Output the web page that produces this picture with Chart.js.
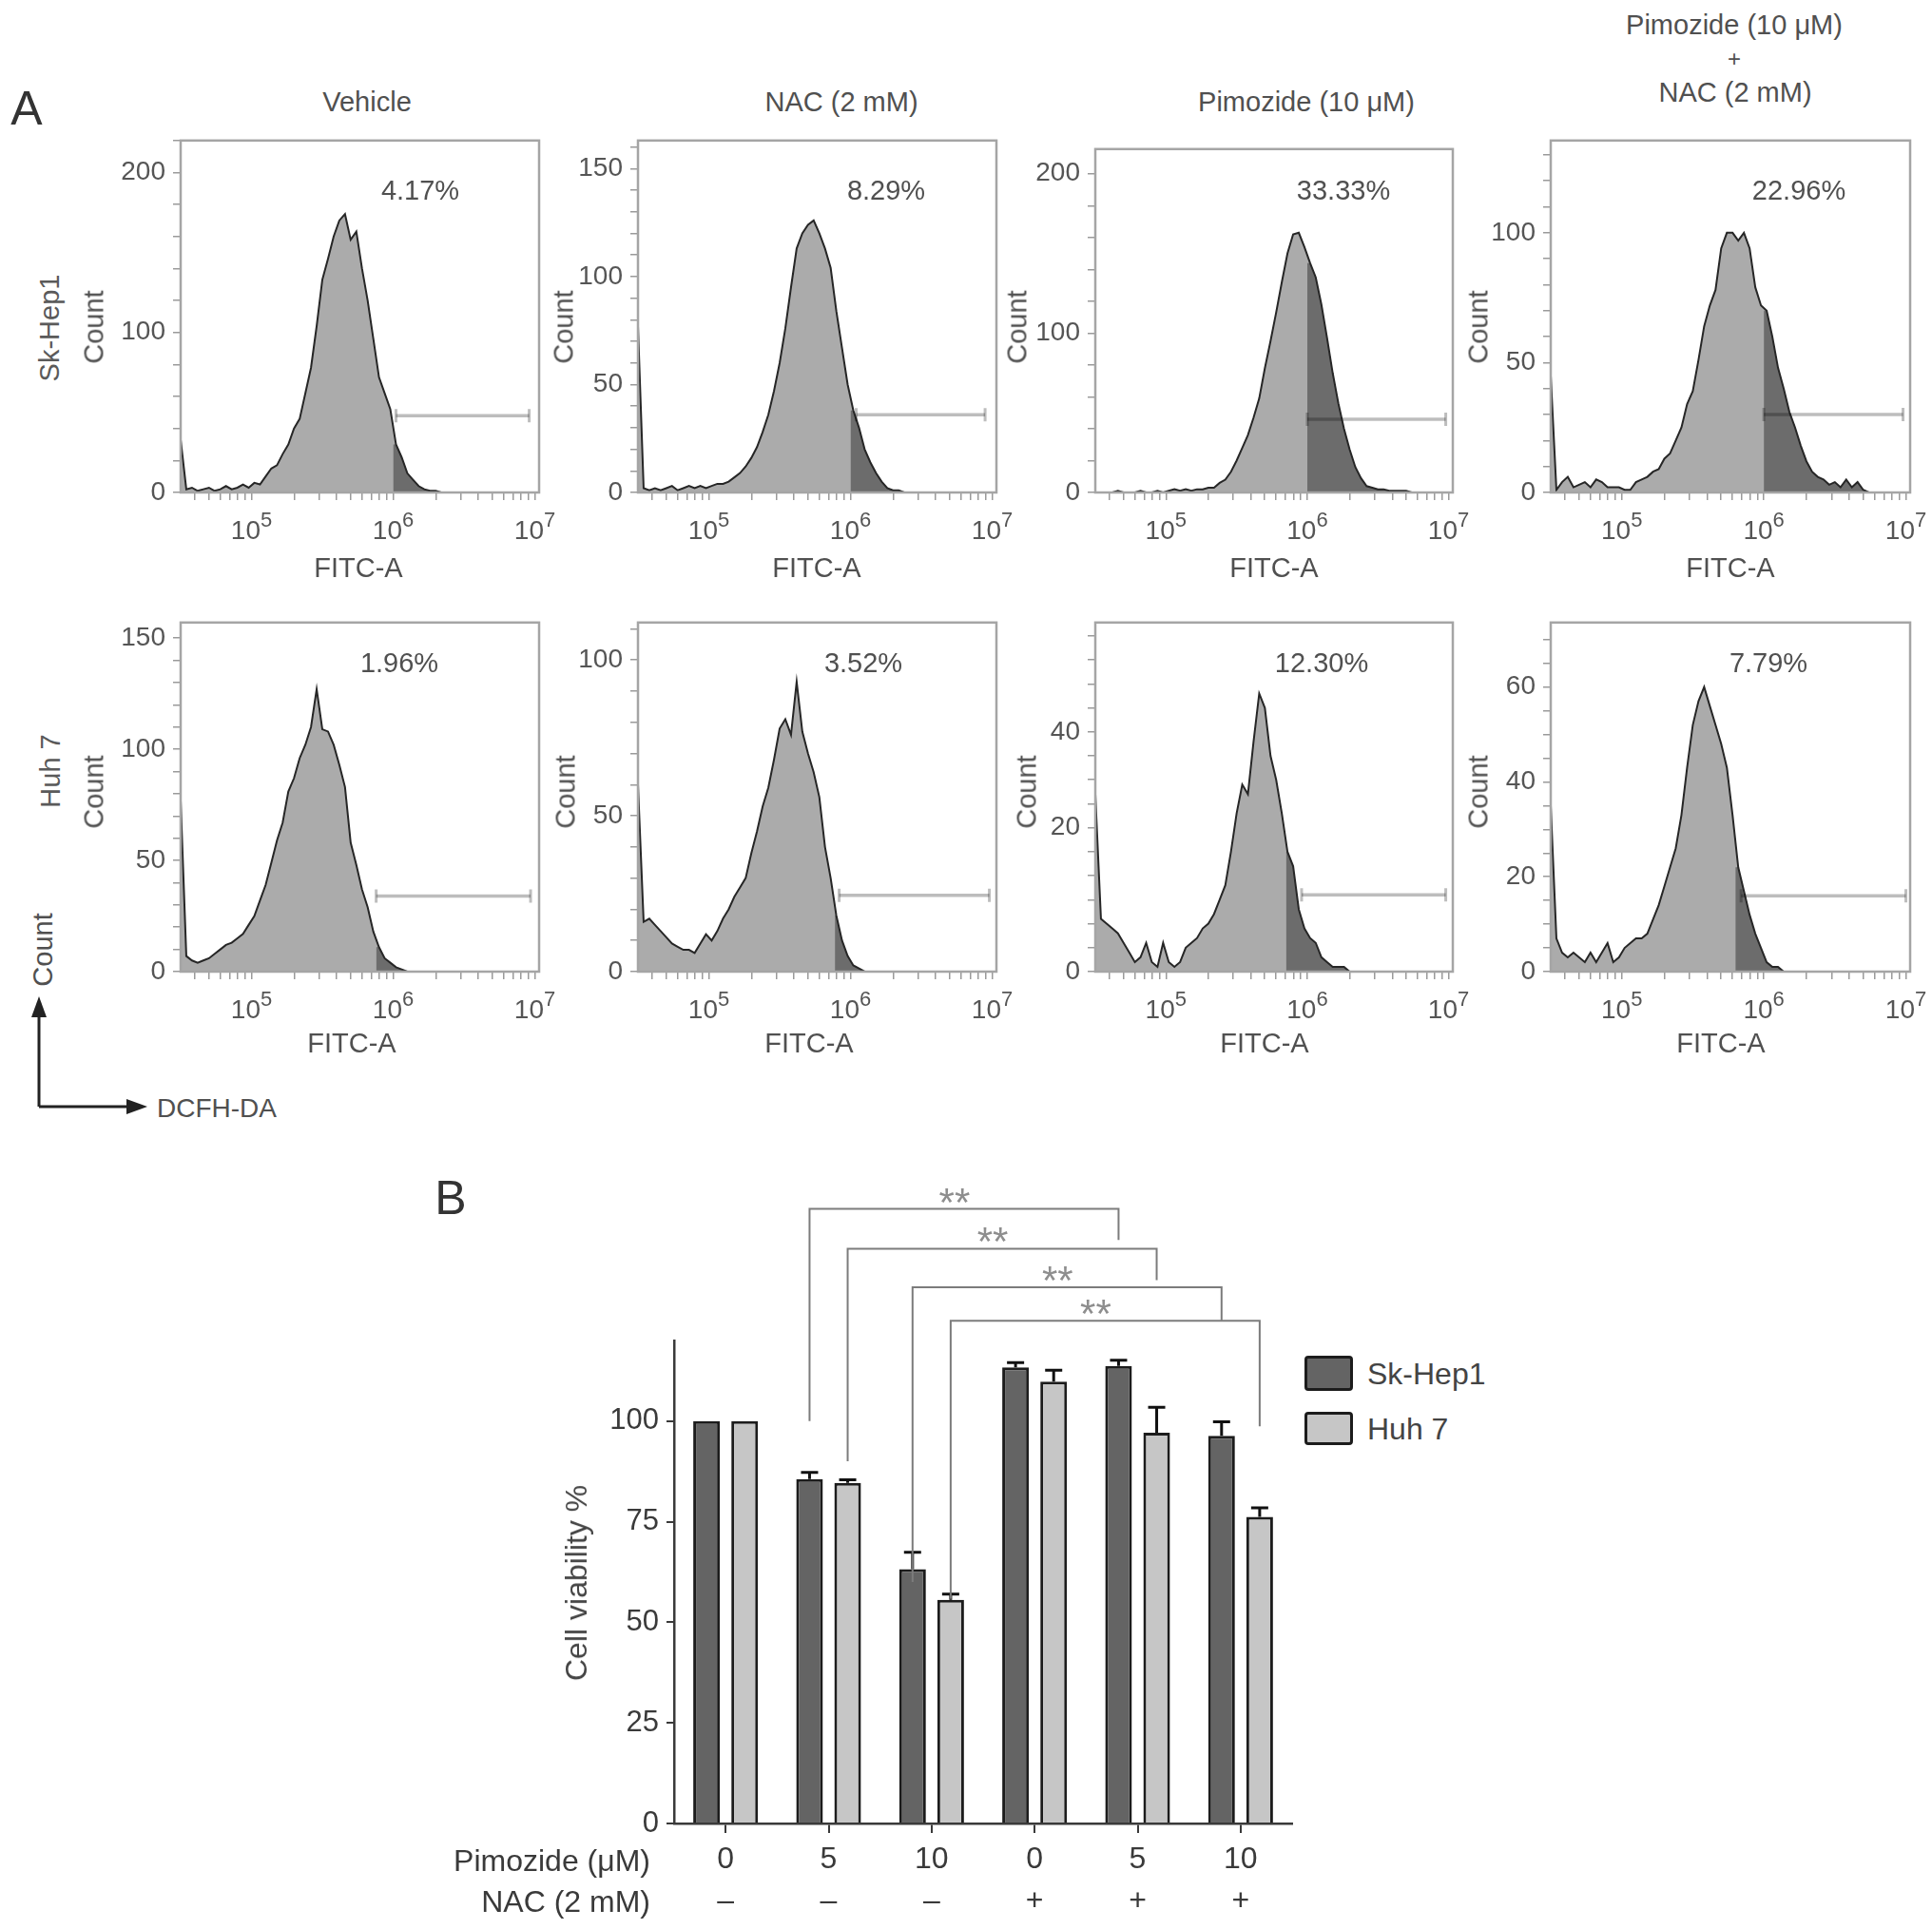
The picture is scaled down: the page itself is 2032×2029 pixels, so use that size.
<!DOCTYPE html>
<html lang="en">
<head>
<meta charset="utf-8">
<title>ROS flow cytometry and cell viability</title>
<script src="https://cdn.jsdelivr.net/npm/chart.js@4.4.1/dist/chart.umd.min.js"></script>
<style>
    html, body { margin: 0; padding: 0; background: #ffffff; }
    #figure { position: relative; width: 2032px; height: 2029px; overflow: hidden; font-family: "Liberation Sans", Arial, sans-serif; color: #505050; }
    .label { position: absolute; white-space: nowrap; line-height: 1; }
    .panel-canvas { position: absolute; }
    .legend-box { position: absolute; border: 3px solid #1c1c1c; border-radius: 4px; box-sizing: border-box; }
</style>
</head>
<body>
<div id="figure"></div>
<script>
// =========================================================
// DATA
// =========================================================

    // FITC-A bin positions (log10 of intensity) shared by every histogram
    const fitcBinExponents = [
        4.50, 4.54, 4.58, 4.62, 4.66, 4.70, 4.74, 4.78, 4.82, 4.86,
        4.90, 4.94, 4.98, 5.02, 5.06, 5.10, 5.14, 5.18, 5.22, 5.26,
        5.30, 5.34, 5.38, 5.42, 5.46, 5.50, 5.54, 5.58, 5.62, 5.66,
        5.70, 5.74, 5.78, 5.82, 5.86, 5.90, 5.94, 5.98, 6.02, 6.06,
        6.10, 6.14, 6.18, 6.22, 6.26, 6.30, 6.34, 6.38, 6.42, 6.46,
        6.50, 6.54, 6.58, 6.62, 6.66, 6.70, 6.74, 6.78, 6.82, 6.86,
        6.90, 6.94, 6.98, 7.02
    ];
    const fitcDecadeLabels = [5, 6, 7];

    const skHepVehicleCounts = [
        33, 2, 3, 1, 2, 3, 1, 2, 4, 2,
        3, 5, 3, 6, 5, 10, 15, 17, 24, 30,
        40, 46, 62, 78, 104, 133, 146, 160, 170, 174,
        158, 163, 140, 120, 96, 72, 62, 52, 30, 22,
        12, 8, 4, 2, 1, 1, 0, 0, 0, 0,
        0, 0, 0, 0, 0, 0, 0, 0, 0, 0,
        0, 0, 0, 0
    ];
    const skHepNacCounts = [
        77, 2, 1, 2, 1, 2, 3, 1, 2, 3,
        2, 3, 2, 3, 4, 4, 5, 7, 9, 12,
        16, 21, 28, 36, 47, 60, 76, 95, 113, 120,
        124, 126, 120, 113, 104, 84, 67, 50, 38, 30,
        20, 14, 9, 5, 2, 1, 1, 0, 0, 0,
        0, 0, 0, 0, 0, 0, 0, 0, 0, 0,
        0, 0, 0, 0
    ];
    const skHepPimozideCounts = [
        0, 0, 0, 0, 1, 0, 0, 0, 1, 0,
        0, 1, 0, 1, 2, 1, 2, 1, 2, 2,
        3, 3, 6, 8, 13, 20, 28, 36, 47, 59,
        78, 95, 113, 132, 150, 162, 163, 154, 144, 135,
        118, 97, 75, 56, 40, 27, 16, 9, 4, 3,
        2, 2, 1, 1, 1, 1, 0, 0, 0, 0,
        0, 0, 0, 0
    ];
    const skHepComboCounts = [
        45, 1, 4, 6, 2, 3, 4, 2, 5, 4,
        2, 2, 2, 1, 1, 4, 5, 6, 8, 9,
        13, 15, 20, 25, 34, 39, 51, 64, 72, 78,
        94, 100, 100, 97, 100, 94, 79, 72, 70, 60,
        48, 40, 31, 25, 18, 12, 8, 6, 5, 3,
        4, 2, 5, 2, 4, 1, 0, 0, 0, 0,
        0, 0, 0, 0
    ];
    const huhVehicleCounts = [
        77, 7, 5, 4, 5, 6, 8, 10, 12, 13,
        15, 17, 21, 25, 32, 39, 49, 59, 67, 81,
        87, 96, 102, 110, 127, 109, 108, 102, 93, 83,
        58, 48, 37, 29, 18, 11, 6, 4, 2, 1,
        0, 0, 0, 0, 0, 0, 0, 0, 0, 0,
        0, 0, 0, 0, 0, 0, 0, 0, 0, 0,
        0, 0, 0, 0
    ];
    const huhNacCounts = [
        60, 16, 17, 15, 13, 11, 9, 8, 7, 7,
        6, 9, 12, 10, 13, 17, 20, 24, 27, 30,
        38, 45, 53, 59, 68, 78, 81, 76, 93, 77,
        70, 64, 56, 40, 30, 18, 10, 5, 2, 1,
        0, 0, 0, 0, 0, 0, 0, 0, 0, 0,
        0, 0, 0, 0, 0, 0, 0, 0, 0, 0,
        0, 0, 0, 0
    ];
    const huhPimozideCounts = [
        37, 11, 10, 9, 8, 6, 4, 2, 3, 6,
        2, 1, 6, 2, 1, 2, 5, 6, 7, 9,
        10, 12, 15, 18, 25, 33, 39, 37, 48, 58,
        55, 45, 40, 33, 25, 22, 13, 9, 7, 6,
        3, 2, 1, 1, 1, 0, 0, 0, 0, 0,
        0, 0, 0, 0, 0, 0, 0, 0, 0, 0,
        0, 0, 0, 0
    ];
    const huhComboCounts = [
        35, 7, 4, 3, 4, 3, 2, 4, 2, 4,
        6, 2, 3, 5, 6, 7, 7, 8, 11, 14,
        18, 22, 26, 33, 43, 52, 57, 60, 56, 52,
        48, 43, 33, 22, 17, 12, 8, 5, 2, 1,
        1, 0, 0, 0, 0, 0, 0, 0, 0, 0,
        0, 0, 0, 0, 0, 0, 0, 0, 0, 0,
        0, 0, 0, 0
    ];

    // gates (log10 FITC-A) and the gate marker level (count)
    const gateExponents = [6.00, 6.00, 6.00, 6.00, 5.88, 5.89, 5.85, 5.80];
    const gateBarStarts = [6.02, 6.04, 6.00, 6.00, 5.88, 5.92, 5.96, 5.84];
    const gateBarEnds = [6.96, 6.95, 6.98, 6.98, 6.97, 6.98, 6.98, 7.00];
    const gateBarLevels = [48, 36, 46, 30, 34, 24.5, 16, 16];
    const gatePercents = ["4.17%", "8.29%", "33.33%", "22.96%", "1.96%", "3.52%", "12.30%", "7.79%"];

    // count axes
    const countAxisMax = [220, 163, 215.5, 135.5, 157, 112, 72.8, 73.6];
    const countAxisStep = [20, 10, 20, 10, 10, 10, 5, 5];
    const countTickValues = [[0, 100, 200], [0, 50, 100, 150], [0, 100, 200], [0, 50, 100],
                             [0, 50, 100, 150], [0, 50, 100], [0, 30, 50], [0, 20, 40, 60]];
    const countTickLabels = [["0", "100", "200"], ["0", "50", "100", "150"], ["0", "100", "200"], ["0", "50", "100"],
                             ["0", "50", "100", "150"], ["0", "50", "100"], ["0", "20", "40"], ["0", "20", "40", "60"]];

    const treatmentTitles = ["Vehicle", "NAC (2 mM)", "Pimozide (10 \u03bcM)"];

    // cell viability (B)
    const pimozideDoses = ["0", "5", "10", "0", "5", "10"];
    const nacAdded = ["\u2013", "\u2013", "\u2013", "+", "+", "+"];
    const skHepViability = [100, 85.6, 63.2, 113.3, 113.7, 96.3];
    const skHepError = [0, 1.6, 4.2, 1.2, 1.4, 3.5];
    const huhViability = [100, 84.6, 55.6, 109.8, 97.1, 76.2];
    const huhError = [0, 0.8, 1.4, 2.8, 6.3, 2.2];

    // significance brackets: [group, series] of each end, levels in viability %
    const bracketFromBars = [[1, 0], [1, 1], [2, 0], [2, 1]];
    const bracketToBars = [[4, 0], [4, 1], [5, 0], [5, 1]];
    const bracketTops = [152.7, 142.8, 133.2, 124.9];
    const bracketFromEnds = [100, 90, 60, 55.8];
    const bracketToEnds = [145, 135, 125, 98.7];
    const bracketMarks = ["**", "**", "**", "**"];

// =========================================================
// LAYOUT
// =========================================================

    const fontFamily = '"Liberation Sans", Arial, sans-serif';
    const figure = document.getElementById("figure");

    const panelBoxes = [
        [190, 133, 567, 518], [671, 133, 1048, 518], [1152, 142, 1528, 518], [1631, 133, 2009, 518],
        [190, 640, 567, 1022], [671, 640, 1048, 1022], [1152, 640, 1528, 1022], [1631, 640, 2009, 1022]
    ];
    const histogramCounts = [skHepVehicleCounts, skHepNacCounts, skHepPimozideCounts, skHepComboCounts,
                             huhVehicleCounts, huhNacCounts, huhPimozideCounts, huhComboCounts];

    const countTitleX = [99, 593, 1070, 1555, 99, 595, 1080, 1555];
    const fitcTitleX = [377, 859, 1340, 1820, 370, 851, 1330, 1810];
    const percentX = [442, 932, 1413, 1892, 420, 908, 1390, 1860];

    const AXIS_WIDTH = 90;
    const AXIS_HEIGHT = 70;
    const RIGHT_ROOM = 30;

    Chart.defaults.font.family = fontFamily;

// =========================================================
// HELPERS
// =========================================================

    function addLabel(text, x, y, options = {}) {
        const el = document.createElement("div");
        el.className = "label";
        el.textContent = text;
        el.style.left = x + "px";
        el.style.top = y + "px";
        el.style.fontSize = (options.size || 29) + "px";
        if (options.color) {
            el.style.color = options.color;
        }
        const shiftX = options.align === "right" ? "-100%" : options.align === "left" ? "0%" : "-50%";
        el.style.transform = "translate(" + shiftX + ", -50%)" + (options.rotate ? " rotate(-90deg)" : "");
        figure.appendChild(el);
    }

    function addCanvas(left, top, width, height) {
        const canvas = document.createElement("canvas");
        canvas.className = "panel-canvas";
        canvas.width = width;
        canvas.height = height;
        canvas.style.left = left + "px";
        canvas.style.top = top + "px";
        canvas.style.width = width + "px";
        canvas.style.height = height + "px";
        figure.appendChild(canvas);
        return canvas;
    }

    // --- Plugins --- //

    const histogramFramePlugin = {
        id: "histogramFrame",
        afterDatasetsDraw(chart) {
            const { ctx, chartArea } = chart;
            ctx.save();
            ctx.strokeStyle = "#a5a5a5";
            ctx.lineWidth = 2.5;
            ctx.strokeRect(chartArea.left, chartArea.top, chartArea.right - chartArea.left, chartArea.bottom - chartArea.top);
            ctx.restore();
        }
    };

    const decadeLabelPlugin = {
        id: "decadeLabels",
        afterDraw(chart) {
            const { ctx, chartArea } = chart;
            const xScale = chart.scales.x;
            ctx.save();
            ctx.fillStyle = "#555555";
            ctx.textBaseline = "alphabetic";
            ctx.textAlign = "left";
            fitcDecadeLabels.forEach(function (exponent) {
                const x = xScale.getPixelForValue(Math.pow(10, exponent));
                ctx.font = "28px " + fontFamily;
                const baseWidth = ctx.measureText("10").width;
                ctx.font = "22px " + fontFamily;
                const supWidth = ctx.measureText(String(exponent)).width;
                const start = x - (baseWidth + supWidth) / 2;
                ctx.font = "28px " + fontFamily;
                ctx.fillText("10", start, chartArea.bottom + 49);
                ctx.font = "22px " + fontFamily;
                ctx.fillText(String(exponent), start + baseWidth, chartArea.bottom + 36);
            });
            ctx.restore();
        }
    };

    const errorBarPlugin = {
        id: "errorBars",
        afterDatasetsDraw(chart) {
            const ctx = chart.ctx;
            const yScale = chart.scales.y;
            const errors = [skHepError, huhError];
            ctx.save();
            ctx.strokeStyle = "#111111";
            ctx.lineWidth = 3;
            chart.data.datasets.forEach(function (dataset, setIndex) {
                chart.getDatasetMeta(setIndex).data.forEach(function (bar, i) {
                    const error = errors[setIndex][i];
                    if (!error) {
                        return;
                    }
                    const top = yScale.getPixelForValue(dataset.data[i] + error);
                    ctx.beginPath();
                    ctx.moveTo(bar.x, bar.y);
                    ctx.lineTo(bar.x, top);
                    ctx.moveTo(bar.x - 9, top);
                    ctx.lineTo(bar.x + 9, top);
                    ctx.stroke();
                });
            });
            ctx.restore();
        }
    };

    const bracketPlugin = {
        id: "significanceBrackets",
        afterDatasetsDraw(chart) {
            const ctx = chart.ctx;
            const yScale = chart.scales.y;
            ctx.save();
            bracketFromBars.forEach(function (from, k) {
                const to = bracketToBars[k];
                const left = chart.getDatasetMeta(from[1]).data[from[0]].x;
                const right = chart.getDatasetMeta(to[1]).data[to[0]].x;
                const topY = yScale.getPixelForValue(bracketTops[k]);

                ctx.strokeStyle = "#7c7c7c";
                ctx.lineWidth = 2;
                ctx.beginPath();
                ctx.moveTo(left, yScale.getPixelForValue(bracketFromEnds[k]));
                ctx.lineTo(left, topY);
                ctx.lineTo(right, topY);
                ctx.lineTo(right, yScale.getPixelForValue(bracketToEnds[k]));
                ctx.stroke();

                ctx.fillStyle = "#8e8e8e";
                ctx.font = "42px " + fontFamily;
                ctx.textAlign = "center";
                ctx.textBaseline = "alphabetic";
                ctx.fillText(bracketMarks[k], (left + right) / 2 - 10, topY + 7);
            });
            ctx.restore();
        }
    };

// =========================================================
// HISTOGRAMS (A)
// =========================================================

    function buildFitcTicks(scale) {
        const values = [];
        [1e4, 1e5, 1e6].forEach(function (decade) {
            for (let m = 1; m <= 9; m++) {
                if (decade * m >= scale.min) {
                    values.push({ value: decade * m });
                }
            }
        });
        values.push({ value: 1e7 });
        scale.ticks = values;
    }

    function createHistogram(index) {
        const [left, top, right, bottom] = panelBoxes[index];
        const counts = histogramCounts[index];
        const canvas = addCanvas(left - AXIS_WIDTH, top - 10, right - left + AXIS_WIDTH + RIGHT_ROOM, bottom - top + 10 + AXIS_HEIGHT);

        const points = fitcBinExponents.map(function (exponent, i) {
            return { x: Math.pow(10, exponent), y: counts[i] };
        });

        const gateIndex = fitcBinExponents.findIndex(function (exponent) {
            return exponent >= gateExponents[index] - 0.001;
        });
        const tail = [{ x: Math.pow(10, gateExponents[index]), y: counts[gateIndex] }].concat(points.slice(gateIndex));

        const tickValues = countTickValues[index];
        const tickLabels = countTickLabels[index];

        return new Chart(canvas, {
            type: "line",
            data: {
                datasets: [
                    {
                        data: points,
                        fill: "origin",
                        backgroundColor: "#ababab",
                        borderColor: "rgba(0, 0, 0, 0)",
                        borderWidth: 1,
                        pointRadius: 0,
                        order: 4
                    },
                    {
                        data: tail,
                        fill: "origin",
                        backgroundColor: "#6c6c6c",
                        borderColor: "rgba(0, 0, 0, 0)",
                        borderWidth: 1,
                        pointRadius: 0,
                        order: 3
                    },
                    {
                        data: points,
                        fill: false,
                        borderColor: "#262626",
                        borderWidth: 2,
                        pointRadius: 0,
                        order: 2
                    },
                    {
                        data: [
                            { x: Math.pow(10, gateBarStarts[index]), y: gateBarLevels[index] },
                            { x: Math.pow(10, gateBarEnds[index]), y: gateBarLevels[index] }
                        ],
                        fill: false,
                        borderColor: "rgba(0, 0, 0, 0.26)",
                        borderWidth: 3.5,
                        pointStyle: "line",
                        pointRotation: 90,
                        pointRadius: 7,
                        pointBorderWidth: 3,
                        pointBorderColor: "rgba(0, 0, 0, 0.26)",
                        order: 1
                    }
                ]
            },
            options: {
                responsive: false,
                animation: false,
                devicePixelRatio: 1,
                events: [],
                layout: { padding: { top: 10, right: RIGHT_ROOM, left: 0, bottom: 0 } },
                plugins: {
                    legend: { display: false },
                    tooltip: { enabled: false }
                },
                scales: {
                    x: {
                        type: "logarithmic",
                        min: Math.pow(10, 4.5),
                        max: Math.pow(10, 7.03),
                        afterBuildTicks: buildFitcTicks,
                        ticks: { autoSkip: false, callback: () => "" },
                        grid: { drawOnChartArea: false, drawTicks: true, tickLength: 8, color: "#9a9a9a", lineWidth: 1.5 },
                        border: { display: false },
                        afterFit: function (scale) { scale.height = AXIS_HEIGHT; }
                    },
                    y: {
                        min: 0,
                        max: countAxisMax[index],
                        ticks: {
                            stepSize: countAxisStep[index],
                            includeBounds: false,
                            autoSkip: false,
                            padding: 8,
                            color: "#555555",
                            font: { size: 28 },
                            callback: function (value) {
                                const k = tickValues.indexOf(value);
                                return k === -1 ? "" : tickLabels[k];
                            }
                        },
                        grid: { drawOnChartArea: false, drawTicks: true, tickLength: 8, color: "#9a9a9a", lineWidth: 1.5 },
                        border: { display: false },
                        afterFit: function (scale) { scale.width = AXIS_WIDTH; }
                    }
                }
            },
            plugins: [histogramFramePlugin, decadeLabelPlugin]
        });
    }

    function setupHistogramPanel() {
        addLabel("A", 28, 114, { size: 50, color: "#333333" });

        addLabel(treatmentTitles[0], 386, 107);
        addLabel(treatmentTitles[1], 885, 107);
        addLabel(treatmentTitles[2], 1374, 107);
        addLabel(treatmentTitles[2], 1824, 26);
        addLabel("+", 1824, 62, { size: 24 });
        addLabel(treatmentTitles[1], 1825, 97);

        addLabel("Sk-Hep1", 52, 345, { rotate: true, color: "#5a5a5a" });
        addLabel("Huh 7", 53, 811, { rotate: true, color: "#5a5a5a" });

        for (let i = 0; i < panelBoxes.length; i++) {
            createHistogram(i);
            const rowY = i < 4 ? 0 : 1;
            addLabel("Count", countTitleX[i], rowY ? 833 : 344, { rotate: true });
            addLabel("FITC-A", fitcTitleX[i], rowY ? 1097 : 597);
            addLabel(gatePercents[i], percentX[i], rowY ? 697 : 200);
        }

        // axis key (Count vs DCFH-DA)
        addLabel("Count", 45, 999, { rotate: true });
        addLabel("DCFH-DA", 165, 1166, { align: "left", size: 28 });
        const svgNS = "http://www.w3.org/2000/svg";
        const svg = document.createElementNS(svgNS, "svg");
        svg.setAttribute("width", "200");
        svg.setAttribute("height", "200");
        svg.style.position = "absolute";
        svg.style.left = "0px";
        svg.style.top = "1000px";
        svg.innerHTML =
            '<path d="M41 164 L41 62 M41 164 L138 164" stroke="#222" stroke-width="3" fill="none"/>' +
            '<polygon points="41,48 33,70 49,70" fill="#222"/>' +
            '<polygon points="155,164 133,156 133,172" fill="#222"/>';
        figure.appendChild(svg);
    }

// =========================================================
// CELL VIABILITY (B)
// =========================================================

    function setupViabilityPanel() {
        addLabel("B", 474, 1260, { size: 50, color: "#333333" });

        const canvas = addCanvas(589, 1230, 780, 798);

        new Chart(canvas, {
            type: "bar",
            data: {
                labels: pimozideDoses.map(function (dose, i) { return [dose, nacAdded[i]]; }),
                datasets: [
                    {
                        label: "Sk-Hep1",
                        data: skHepViability,
                        backgroundColor: "#646464",
                        borderColor: "#1c1c1c",
                        borderWidth: 3,
                        borderSkipped: "start",
                        categoryPercentage: 0.74,
                        barPercentage: 0.7
                    },
                    {
                        label: "Huh 7",
                        data: huhViability,
                        backgroundColor: "#c6c6c6",
                        borderColor: "#1c1c1c",
                        borderWidth: 3,
                        borderSkipped: "start",
                        categoryPercentage: 0.74,
                        barPercentage: 0.7
                    }
                ]
            },
            options: {
                responsive: false,
                animation: false,
                devicePixelRatio: 1,
                events: [],
                layout: { padding: { top: 180, right: 10, left: 0, bottom: 0 } },
                plugins: {
                    legend: { display: false },
                    tooltip: { enabled: false }
                },
                scales: {
                    x: {
                        grid: { drawOnChartArea: false, offset: false, drawTicks: true, tickLength: 10, color: "#3a3a3a", lineWidth: 2 },
                        border: { color: "#3a3a3a", width: 2.5 },
                        ticks: { color: "#3a3a3a", padding: 6, font: { size: 32, lineHeight: 1.38 } },
                        afterFit: function (scale) { scale.height = 110; }
                    },
                    y: {
                        min: 0,
                        max: 120,
                        ticks: { stepSize: 25, includeBounds: false, color: "#3a3a3a", padding: 8, font: { size: 31 } },
                        grid: { drawOnChartArea: false, drawTicks: true, tickLength: 8, color: "#3a3a3a", lineWidth: 2 },
                        border: { color: "#3a3a3a", width: 2.5 },
                        afterFit: function (scale) { scale.width = 120; }
                    }
                }
            },
            plugins: [errorBarPlugin, bracketPlugin]
        });

        addLabel("Cell viability %", 606, 1665, { rotate: true, size: 32, color: "#444444" });
        addLabel("Pimozide (\u03bcM)", 684, 1957, { align: "right", size: 32, color: "#3a3a3a" });
        addLabel("NAC (2 mM)", 684, 2000, { align: "right", size: 32, color: "#3a3a3a" });

        // legend
        const darkBox = document.createElement("div");
        darkBox.className = "legend-box";
        darkBox.style.cssText += "left:1372px;top:1426px;width:51px;height:37px;background:#646464;";
        figure.appendChild(darkBox);
        const lightBox = document.createElement("div");
        lightBox.className = "legend-box";
        lightBox.style.cssText += "left:1372px;top:1485px;width:51px;height:35px;background:#c6c6c6;";
        figure.appendChild(lightBox);
        addLabel("Sk-Hep1", 1438, 1445, { align: "left", size: 32, color: "#444444" });
        addLabel("Huh 7", 1438, 1503, { align: "left", size: 32, color: "#444444" });
    }

    setupHistogramPanel();
    setupViabilityPanel();
</script>
</body>
</html>
